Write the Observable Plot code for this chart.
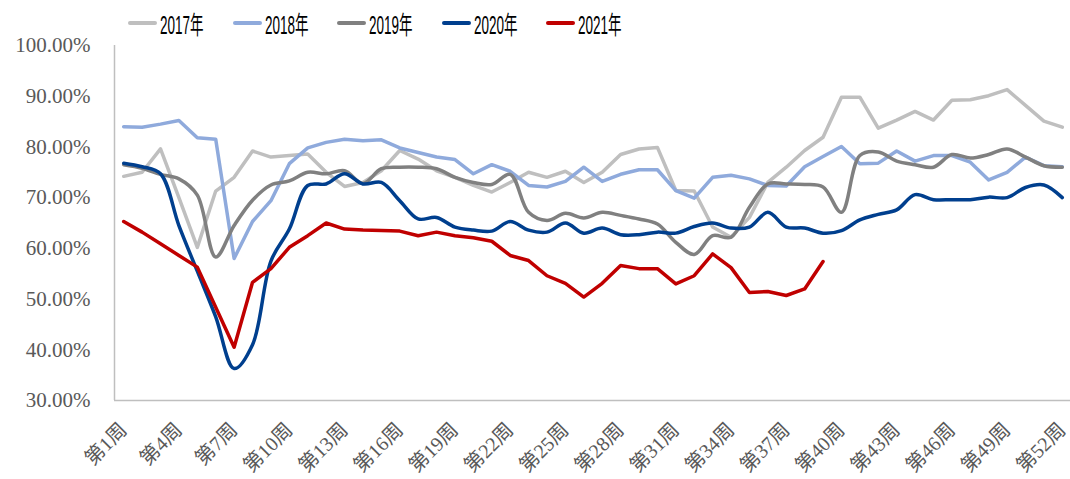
<!DOCTYPE html>
<html>
<head>
<meta charset="utf-8">
<script src="https://cdn.jsdelivr.net/npm/d3@7"></script>
<script src="https://cdn.jsdelivr.net/npm/@observablehq/plot@0.6"></script>
<style>
  html, body { margin: 0; padding: 0; background: #fff; }
  #wrap { position: relative; width: 1070px; height: 479px; overflow: hidden; }
  #legend { position: absolute; left: 128px; top: 8px; height: 30px; display: flex; align-items: center;
            font-family: "Liberation Sans", "Noto Sans CJK SC", sans-serif; font-size: 25px; color: #000; z-index: 2; }
  .item { display: flex; align-items: center; width: 104.5px; }
  .sw { width: 29px; height: 4px; border-radius: 2px; margin-right: 3px; flex: none; }
  .tx { display: inline-block; transform: scaleX(0.54); transform-origin: left center; white-space: nowrap; }
  svg { display: block; }
</style>
</head>
<body>
<div id="wrap">
  <div id="chart"></div>
  <div id="legend"></div>
</div>
<script>
// ---- data ----
const seriesNames = ["2017年", "2018年", "2019年", "2020年", "2021年"];
const seriesColors = ["#BFBFBF", "#8FAADC", "#808080", "#003F8E", "#C00000"];
const seriesSmooth = [false, false, true, true, false];

const y2017 = [74.2, 75.0, 79.6, 70.0, 60.2, 71.3, 74.0, 79.2, 78.0, 78.3, 78.6, 75.0, 72.2, 73.0, 75.3, 79.3, 77.6, 75.3,
  74.0, 72.4, 71.1, 73.0, 75.0, 74.0, 75.2, 73.0, 75.0, 78.5, 79.6, 79.9, 71.4, 71.3, 64.2, 62.2, 66.1, 73.0, 76.0, 79.3,
  81.9, 89.8, 89.8, 83.7, 85.3, 87.0, 85.3, 89.2, 89.3, 90.1, 91.3, 88.2, 85.1, 83.9];
const y2018 = [84.0, 83.9, 84.5, 85.2, 81.8, 81.5, 58.0, 65.3, 69.4, 76.7, 79.8, 80.9, 81.5, 81.2, 81.4, 79.8, 78.9, 78.0,
  77.5, 74.7, 76.5, 75.2, 72.4, 72.1, 73.2, 76.0, 73.2, 74.6, 75.5, 75.5, 71.4, 69.9, 74.0, 74.4, 73.7, 72.4, 72.3, 76.1,
  78.1, 80.1, 76.7, 76.8, 79.2, 77.2, 78.3, 78.3, 77.0, 73.5, 75.0, 78.0, 76.3, 76.1];
const y2019 = [76.5, 75.8, 74.6, 73.7, 70.5, 58.3, 64.5, 69.5, 72.5, 73.3, 75.0, 74.7, 75.3, 72.8, 75.7, 76.0, 76.0, 75.7,
  74.0, 73.0, 72.6, 74.6, 67.1, 65.5, 66.9, 66.0, 67.1, 66.5, 65.8, 64.8, 61.2, 58.8, 62.5, 62.2, 68.1, 72.7, 72.7, 72.6,
  72.1, 67.1, 78.3, 79.0, 77.2, 76.5, 76.0, 78.5, 77.8, 78.5, 79.6, 78.0, 76.3, 76.0];
const y2020 = [76.8, 76.1, 74.7, 64.5, 55.5, 46.5, 36.3, 41.0, 57.5, 63.8, 72.4, 72.7, 74.7, 72.7, 73.0, 69.4, 65.8, 66.1,
  64.2, 63.6, 63.4, 65.3, 63.6, 63.2, 65.0, 63.0, 64.0, 62.7, 62.7, 63.2, 63.0, 64.3, 65.0, 64.0, 64.2, 67.1, 64.2, 64.0,
  63.0, 63.5, 65.6, 66.7, 67.6, 70.6, 69.6, 69.6, 69.6, 70.1, 70.0, 72.0, 72.5, 70.0];
const y2021 = [65.3, 63.2, 60.9, 58.6, 56.3, 48.4, 40.5, 53.3, 56.0, 60.2, 62.5, 65.0, 63.8, 63.6, 63.5, 63.4, 62.5, 63.2,
  62.5, 62.1, 61.4, 58.6, 57.6, 54.6, 53.1, 50.4, 53.1, 56.6, 56.0, 56.0, 53.0, 54.6, 58.9, 56.2, 51.3, 51.5, 50.7, 52.0,
  57.4];
const seriesValues = [y2017, y2018, y2019, y2020, y2021];

const xTickWeeks = [1, 4, 7, 10, 13, 16, 19, 22, 25, 28, 31, 34, 37, 40, 43, 46, 49, 52];
const yTicks = [30, 40, 50, 60, 70, 80, 90, 100];

// ---- legend ----
const legend = document.getElementById("legend");
seriesNames.forEach((name, i) => {
  const it = document.createElement("div");
  it.className = "item";
  const sw = document.createElement("div");
  sw.className = "sw";
  sw.style.background = seriesColors[i];
  const tx = document.createElement("span");
  tx.className = "tx";
  tx.textContent = name;
  it.appendChild(sw); it.appendChild(tx);
  legend.appendChild(it);
});

// ---- chart ----
const rows = seriesNames.map((name, i) => seriesValues[i].map((v, j) => ({series: name, week: j + 1, value: v})));

const lineMarks = rows.map((r, i) => Plot.line(r, {
  x: "week", y: "value", stroke: seriesColors[i], strokeWidth: 3.5,
  curve: seriesSmooth[i] ? "catmull-rom" : "linear", strokeLinejoin: "round", strokeLinecap: "round"
}));

const chart = Plot.plot({
  width: 1070,
  height: 479,
  marginLeft: 114,
  marginRight: 0,
  marginTop: 45,
  marginBottom: 79,
  style: {fontFamily: "'Liberation Serif', 'Noto Sans CJK SC', serif", color: "#595959", background: "#fff"},
  x: {type: "linear", domain: [0.5, 52.5], range: [114, 1071]},
  y: {domain: [30, 100]},
  marks: [
    Plot.ruleY([30], {stroke: "#BFBFBF", strokeWidth: 1.5}),
    Plot.ruleX([0.5], {y1: 30, y2: 100, stroke: "#BFBFBF", strokeWidth: 1.5}),
    Plot.axisY({ticks: yTicks, tickSize: 0, tickPadding: 24, tickFormat: d => d.toFixed(2) + "%", fontSize: 21, label: null}),
    Plot.axisX({ticks: xTickWeeks, tickSize: 0, tickPadding: 26, tickRotate: -45, tickFormat: d => `第${d}周`, fontSize: 20, label: null}),
    ...lineMarks
  ]
});
document.getElementById("chart").appendChild(chart);
</script>
</body>
</html>
